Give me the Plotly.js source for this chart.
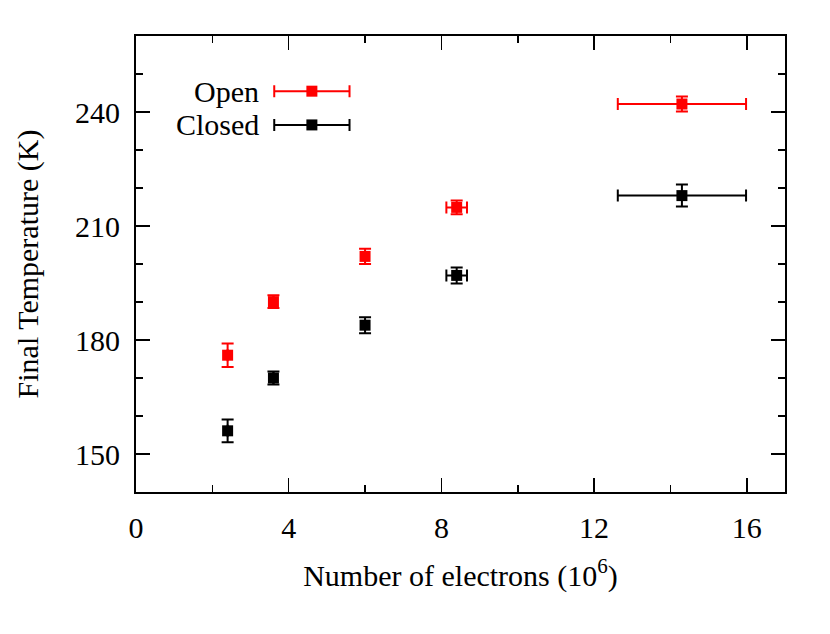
<!DOCTYPE html>
<html>
<head>
<meta charset="utf-8">
<script src="https://cdn.plot.ly/plotly-3.0.1.min.js"></script>
<style>
  html, body { margin: 0; padding: 0; background: white; }
  #plot { width: 830px; height: 634px; }
</style>
</head>
<body>
<div id="plot"></div>
<script>
// electrons (10^6) and final temperature (K)
let electrons = [2.4, 3.6, 6.0, 8.4, 14.3]
let electronsErr = [0.0, 0.0, 0.0, 0.27, 1.68]

let openTemp = [176.0, 190.1, 202.0, 214.9, 242.1]
let openErr = [3.1, 1.7, 2.0, 1.8, 2.0]

let closedTemp = [156.1, 170.0, 183.9, 197.0, 218.0]
let closedErr = [3.0, 1.7, 2.1, 2.1, 2.9]

let seriesNames = ["Open", "Closed"]
let seriesColors = ["#ff0000", "#000000"]

let font = "Liberation Serif"
let fontSize = 30

function dataTrace(yValues, yErr, color, name) {
    return {
        x: electrons,
        y: yValues,
        type: "scatter",
        mode: "markers",
        name: name,
        marker: { symbol: "square", size: 11, color: color },
        error_x: { type: "data", array: electronsErr, visible: true, color: color, thickness: 2, width: 6 },
        error_y: { type: "data", array: yErr, visible: true, color: color, thickness: 2, width: 6 },
        showlegend: false
    }
}

// legend keys drawn on a hidden overlay axis (fractions of the plot area)
function keyTrace(row, color) {
    return {
        x: [0.271],
        y: [0.879 - row * 0.074],
        xaxis: "x2",
        yaxis: "y2",
        type: "scatter",
        mode: "markers",
        marker: { symbol: "square", size: 11, color: color },
        error_x: { type: "constant", value: 0.058, visible: true, color: color, thickness: 2, width: 6 },
        showlegend: false,
        hoverinfo: "skip"
    }
}

let traces = [
    dataTrace(openTemp, openErr, seriesColors[0], seriesNames[0]),
    dataTrace(closedTemp, closedErr, seriesColors[1], seriesNames[1]),
    keyTrace(0, seriesColors[0]),
    keyTrace(1, seriesColors[1])
]

let annotations = seriesNames.map((name, i) => ({
    xref: "paper", yref: "paper",
    x: 0.192, y: 0.879 - i * 0.074,
    xanchor: "right", yanchor: "middle",
    text: name, showarrow: false,
    font: { family: font, size: fontSize, color: "black" }
}))

let axisCommon = {
    showline: true,
    linecolor: "black",
    linewidth: 2,
    mirror: "ticks",
    ticks: "inside",
    ticklen: 14,
    tickwidth: 1.5,
    tickcolor: "black",
    showgrid: false,
    zeroline: false,
    tickfont: { family: font, size: fontSize, color: "black" }
}

let layout = {
    width: 830,
    height: 634,
    margin: { l: 136, r: 45, t: 36, b: 142 },
    paper_bgcolor: "white",
    plot_bgcolor: "white",
    showlegend: false,
    font: { family: font, size: fontSize, color: "black" },
    xaxis: Object.assign({}, axisCommon, {
        range: [0, 17],
        tick0: 0,
        dtick: 4,
        ticklabelstandoff: 8,
        minor: { dtick: 2, ticks: "inside", ticklen: 7, tickwidth: 1.5, tickcolor: "black" },
        title: { text: "Number of electrons (10<sup>6</sup>)", font: { family: font, size: fontSize }, standoff: 22 }
    }),
    yaxis: Object.assign({}, axisCommon, {
        range: [140, 260],
        tick0: 0,
        dtick: 30,
        ticklabelstandoff: 8,
        minor: { dtick: 10, ticks: "inside", ticklen: 7, tickwidth: 1.5, tickcolor: "black" },
        title: { text: "Final Temperature (K)", font: { family: font, size: fontSize }, standoff: 28 }
    }),
    xaxis2: { overlaying: "x", range: [0, 1], visible: false, fixedrange: true },
    yaxis2: { overlaying: "y", anchor: "x2", range: [0, 1], visible: false, fixedrange: true },
    annotations: annotations
}

Plotly.newPlot("plot", traces, layout, { displayModeBar: false, staticPlot: true })
</script>
</body>
</html>
